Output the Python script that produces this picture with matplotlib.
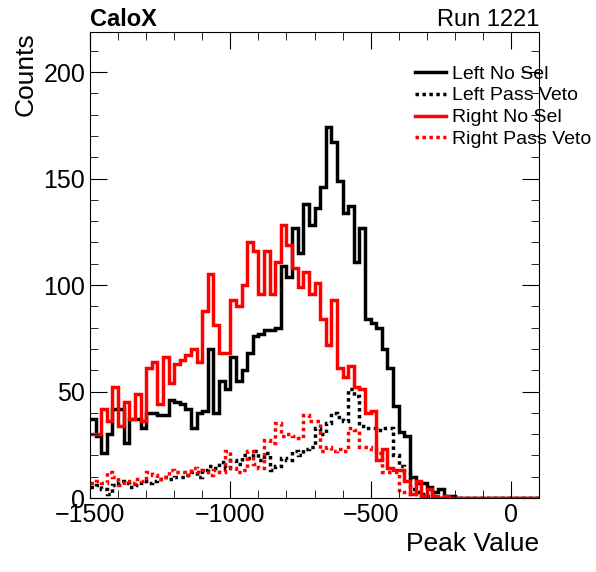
import numpy as np
import matplotlib
matplotlib.use("Agg")
import matplotlib.pyplot as plt
from matplotlib.ticker import MultipleLocator

edges = np.arange(-1500, 101, 20)

left_nosel = [37,29,21,30,42,42,26,37,37,33,40,40,39,39,46,45,44,42,33,40,41,70,40,55,51,66,55,60,68,76,77,79,79,
              80,109,104,127,115,138,128,136,146,174,167,149,134,137,111,127,84,82,80,70,61,43,31,29,10,7,7,5,3,4,
              1,1,0,0,0,0,0,0,0,0,0,0,0,0,0,0,0]
right_nosel = [30,30,42,36,52,34,45,37,49,36,61,64,44,66,54,63,65,67,70,64,88,105,81,68,68,93,90,100,120,116,96,116,96,
               111,128,119,108,99,106,96,101,84,72,93,61,57,62,52,51,40,41,18,23,14,13,13,8,2,8,1,4,
               1,0,1,0,0,0,0,0,0,0,0,0,0,0,0,0,0,0,0]
left_veto = [5,6,4,2,6,8,7,5,6,8,7,8,9,10,9,10,10,11,12,10,13,15,14,17,14,18,16,20,19,22,18,21,13,
             15,19,18,22,20,23,24,33,30,35,40,38,36,51,48,34,33,33,32,33,33,20,15,12,4,3,2,1,
             1,0,0,0,0,0,0,0,0,0,0,0,0,0,0,0,0,0,0]
right_veto = [7,8,7,12,10,6,8,7,9,8,12,11,9,10,13,12,12,11,14,12,13,11,13,12,22,14,12,13,22,16,14,27,26,
              35,29,30,29,28,39,36,36,22,24,22,23,22,33,32,24,24,23,21,12,12,12,3,3,2,2,1,0,
              0,0,0,0,0,0,0,0,0,0,0,0,0,0,0,0,0,0,0]

plt.rcParams['font.family'] = ['Liberation Sans', 'DejaVu Sans']
fig = plt.figure(figsize=(5.96, 5.72), dpi=100)
ax = fig.add_axes([90/596, 1-498/572, 449/596, 466/572])

ax.stairs(left_nosel, edges, color='black', lw=2.5, baseline=None, label='Left No Sel')
ax.stairs(left_veto, edges, color='black', lw=2.5, ls=(0, (1, 1)), baseline=None, label='Left Pass Veto')
ax.stairs(right_nosel, edges, color='red', lw=2.5, baseline=None, label='Right No Sel')
ax.stairs(right_veto, edges, color='red', lw=2.5, ls=(0, (1, 1)), baseline=None, label='Right Pass Veto')

ax.set_xlim(-1500, 100)
ax.set_ylim(0, 218.8)
ax.xaxis.set_major_locator(MultipleLocator(500))
ax.xaxis.set_minor_locator(MultipleLocator(100))
ax.yaxis.set_major_locator(MultipleLocator(50))
ax.yaxis.set_minor_locator(MultipleLocator(10))
ax.tick_params(which='both', direction='in', top=True, right=True, labelsize=18)
ax.tick_params(which='major', length=12)
ax.tick_params(which='minor', length=6)
ax.xaxis.set_major_formatter(matplotlib.ticker.FuncFormatter(lambda v, p: f"{int(v)}".replace('-', '\u2212')))

ax.set_ylabel('Counts', fontsize=19, loc='top')
ax.set_xlabel('Peak Value', fontsize=19, loc='right')
fig.text(90/596, 1-20/572, 'CaloX', fontsize=17, fontweight='bold', va='center')
fig.text(539/596, 1-20/572, 'Run 1221', fontsize=17, ha='right', va='center')

leg = ax.legend(loc='upper left', bbox_to_anchor=(415/596, 1-65/572), bbox_transform=fig.transFigure,
                frameon=False, fontsize=14, handlelength=1.6, handletextpad=0.3, labelspacing=0.22,
                borderaxespad=0, borderpad=0)

fig.savefig('out.png', dpi=100)
